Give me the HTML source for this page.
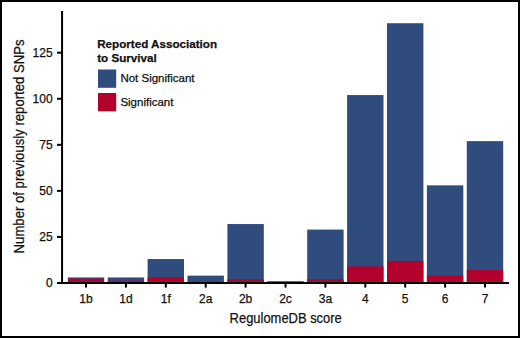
<!DOCTYPE html>
<html><head><meta charset="utf-8"><style>
html,body{margin:0;padding:0;background:#fff;}
body{width:520px;height:338px;overflow:hidden;}
svg{display:block;}
text{font-family:"Liberation Sans",sans-serif;fill:#111;stroke:#111;stroke-width:0.25px;}
.tk{font-size:12px;}
.lt{font-size:11.65px;font-weight:bold;fill:#111;}
.ll{font-size:11.5px;}
.at{font-size:14.8px;}
</style></head><body>
<svg width="520" height="338" viewBox="0 0 520 338">
<rect x="0" y="0" width="520" height="338" fill="#fff"/>
<defs>
<linearGradient id="g1b" x1="0" y1="0" x2="0" y2="1">
<stop offset="0" stop-color="#4A3268"/><stop offset="0.3" stop-color="#7A1E58"/><stop offset="0.55" stop-color="#A5083C"/><stop offset="1" stop-color="#A0063A"/>
</linearGradient>
<linearGradient id="g1d" x1="0" y1="0" x2="0" y2="1">
<stop offset="0" stop-color="#2F4C7C"/><stop offset="0.35" stop-color="#36467C"/><stop offset="0.6" stop-color="#5E3272"/><stop offset="0.85" stop-color="#6A1A4C"/><stop offset="1" stop-color="#4A1030"/>
</linearGradient>
</defs>
<rect x="67.80" y="277.47" width="36.40" height="5.53" fill="url(#g1b)"/><rect x="107.70" y="277.47" width="36.40" height="5.53" fill="url(#g1d)"/><rect x="147.60" y="259.05" width="36.40" height="23.95" fill="#2F4C7C"/><rect x="147.60" y="277.47" width="36.40" height="5.53" fill="#B3002D"/><rect x="187.50" y="275.63" width="36.40" height="7.37" fill="#2F4C7C"/><rect x="227.40" y="224.04" width="36.40" height="58.96" fill="#2F4C7C"/><rect x="227.40" y="279.32" width="36.40" height="3.68" fill="#A2063A"/><rect x="267.30" y="281.16" width="36.40" height="1.84" fill="#2F4C7C"/><rect x="307.20" y="229.57" width="36.40" height="53.43" fill="#2F4C7C"/><rect x="307.20" y="279.32" width="36.40" height="3.68" fill="#A2063A"/><rect x="347.10" y="95.08" width="36.40" height="187.92" fill="#2F4C7C"/><rect x="347.10" y="266.42" width="36.40" height="16.58" fill="#B3002D"/><rect x="387.00" y="23.22" width="36.40" height="259.78" fill="#2F4C7C"/><rect x="387.00" y="260.89" width="36.40" height="22.11" fill="#B3002D"/><rect x="426.90" y="185.35" width="36.40" height="97.65" fill="#2F4C7C"/><rect x="426.90" y="275.63" width="36.40" height="7.37" fill="#B3002D"/><rect x="466.80" y="141.14" width="36.40" height="141.86" fill="#2F4C7C"/><rect x="466.80" y="270.10" width="36.40" height="12.90" fill="#B3002D"/>
<line x1="62.06" y1="11" x2="62.06" y2="284" stroke="#000" stroke-width="2"/><line x1="61" y1="283.0" x2="509" y2="283.0" stroke="#000" stroke-width="2"/><line x1="57" y1="283.00" x2="62" y2="283.00" stroke="#000" stroke-width="2"/><text x="52.6" y="287.20" text-anchor="end" class="tk">0</text><line x1="57" y1="236.94" x2="62" y2="236.94" stroke="#000" stroke-width="2"/><text x="52.6" y="241.14" text-anchor="end" class="tk">25</text><line x1="57" y1="190.88" x2="62" y2="190.88" stroke="#000" stroke-width="2"/><text x="52.6" y="195.08" text-anchor="end" class="tk">50</text><line x1="57" y1="144.82" x2="62" y2="144.82" stroke="#000" stroke-width="2"/><text x="52.6" y="149.02" text-anchor="end" class="tk">75</text><line x1="57" y1="98.76" x2="62" y2="98.76" stroke="#000" stroke-width="2"/><text x="52.6" y="102.96" text-anchor="end" class="tk">100</text><line x1="57" y1="52.70" x2="62" y2="52.70" stroke="#000" stroke-width="2"/><text x="52.6" y="56.90" text-anchor="end" class="tk">125</text><line x1="86.00" y1="283.0" x2="86.00" y2="287.6" stroke="#000" stroke-width="2"/><text x="86.00" y="302.5" text-anchor="middle" class="tk">1b</text><line x1="125.90" y1="283.0" x2="125.90" y2="287.6" stroke="#000" stroke-width="2"/><text x="125.90" y="302.5" text-anchor="middle" class="tk">1d</text><line x1="165.80" y1="283.0" x2="165.80" y2="287.6" stroke="#000" stroke-width="2"/><text x="165.80" y="302.5" text-anchor="middle" class="tk">1f</text><line x1="205.70" y1="283.0" x2="205.70" y2="287.6" stroke="#000" stroke-width="2"/><text x="205.70" y="302.5" text-anchor="middle" class="tk">2a</text><line x1="245.60" y1="283.0" x2="245.60" y2="287.6" stroke="#000" stroke-width="2"/><text x="245.60" y="302.5" text-anchor="middle" class="tk">2b</text><line x1="285.50" y1="283.0" x2="285.50" y2="287.6" stroke="#000" stroke-width="2"/><text x="285.50" y="302.5" text-anchor="middle" class="tk">2c</text><line x1="325.40" y1="283.0" x2="325.40" y2="287.6" stroke="#000" stroke-width="2"/><text x="325.40" y="302.5" text-anchor="middle" class="tk">3a</text><line x1="365.30" y1="283.0" x2="365.30" y2="287.6" stroke="#000" stroke-width="2"/><text x="365.30" y="302.5" text-anchor="middle" class="tk">4</text><line x1="405.20" y1="283.0" x2="405.20" y2="287.6" stroke="#000" stroke-width="2"/><text x="405.20" y="302.5" text-anchor="middle" class="tk">5</text><line x1="445.10" y1="283.0" x2="445.10" y2="287.6" stroke="#000" stroke-width="2"/><text x="445.10" y="302.5" text-anchor="middle" class="tk">6</text><line x1="485.00" y1="283.0" x2="485.00" y2="287.6" stroke="#000" stroke-width="2"/><text x="485.00" y="302.5" text-anchor="middle" class="tk">7</text>

<text x="97.2" y="48.2" class="lt">Reported Association</text>
<text x="97.2" y="61.7" class="lt">to Survival</text>
<rect x="98" y="69.5" width="18.2" height="18.3" fill="#2F4C7C"/>
<rect x="98" y="93" width="18.2" height="18.3" fill="#B3002D"/>
<text x="120.4" y="82.3" class="ll">Not Significant</text>
<text x="120.4" y="105.7" class="ll">Significant</text>


<text x="285.7" y="323.2" text-anchor="middle" class="at" textLength="112.2" lengthAdjust="spacingAndGlyphs">RegulomeDB score</text>
<text transform="translate(23.8,146.4) rotate(-90)" text-anchor="middle" class="at" textLength="214" lengthAdjust="spacingAndGlyphs">Number of previously reported SNPs</text>

<rect x="1" y="1" width="518" height="336" fill="none" stroke="#000" stroke-width="2"/>
</svg>
</body></html>
